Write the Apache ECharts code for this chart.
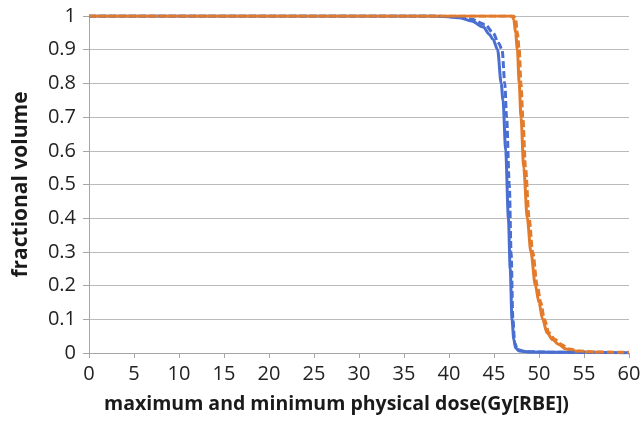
<!DOCTYPE html>
<html><head><meta charset="utf-8">
<script src="https://cdn.jsdelivr.net/npm/echarts@6/dist/echarts.min.js"></script>
<style>html,body{margin:0;padding:0;background:#fff}#c{width:644px;height:428px}</style>
</head><body><div id="c"></div>
<script>
var yTicks = [0, 0.1, 0.2, 0.3, 0.4, 0.5, 0.6, 0.7, 0.8, 0.9, 1];
var xTicks = [0, 5, 10, 15, 20, 25, 30, 35, 40, 45, 50, 55, 60];

var blueSolidDose = [0, 38, 40, 41.2, 42.5, 43.8, 44.5, 44.9, 45.4, 45.8, 46.0, 46.3, 46.6, 46.8, 47.0, 47.2, 47.4, 47.8, 49, 55, 60];
var blueSolidVol  = [1, 1, 0.998, 0.995, 0.985, 0.967, 0.945, 0.93, 0.9, 0.8, 0.75, 0.6, 0.4, 0.25, 0.1, 0.04, 0.015, 0.006, 0.003, 0.002, 0.001];

var blueDashDose = [0, 38, 41, 42.5, 44, 44.9, 45.5, 45.9, 46.2, 46.4, 46.7, 46.9, 47.1, 47.3, 47.6, 48.5, 52, 60];
var blueDashVol  = [1, 1, 0.997, 0.99, 0.975, 0.95, 0.92, 0.9, 0.8, 0.7, 0.5, 0.3, 0.1, 0.03, 0.01, 0.004, 0.002, 0.001];

var orangeSolidDose = [0, 47.0, 47.2, 47.4, 47.6, 47.8, 48.0, 48.3, 48.7, 49.1, 49.6, 50.0, 50.4, 50.9, 51.5, 52.2, 53.0, 54.0, 55.0, 57.0];
var orangeSolidVol  = [1, 1, 0.99, 0.95, 0.9, 0.8, 0.7, 0.55, 0.4, 0.3, 0.2, 0.15, 0.1, 0.06, 0.04, 0.025, 0.012, 0.006, 0.003, 0.002];

var orangeDashDose = [0, 47.2, 47.4, 47.6, 47.8, 48.0, 48.2, 48.5, 48.9, 49.3, 49.8, 50.2, 50.6, 51.1, 51.8, 52.5, 53.3, 54.5, 56.0, 60];
var orangeDashVol  = [1, 1, 0.99, 0.95, 0.9, 0.8, 0.7, 0.55, 0.4, 0.3, 0.2, 0.15, 0.1, 0.06, 0.04, 0.025, 0.012, 0.006, 0.003, 0.002];

function pairs(xs, ys){ return xs.map(function(x,i){ return [x, ys[i]]; }); }

var BLUE = '#4a6fd0', ORANGE = '#e37b2c';
var FONT = 'Open Sans';

function mk(name, xs, ys, color, dashed){
  return {
    name: name, type: 'line', data: pairs(xs, ys), showSymbol: false, symbol: 'none',
    smooth: 0.3, smoothMonotone: 'x',
    lineStyle: { color: color, width: 3, type: dashed ? [7, 3] : 'solid' },
    z: dashed ? 3 : 2
  };
}

var chart = echarts.init(document.getElementById('c'), null, {renderer: 'canvas'});
chart.setOption({
  animation: false,
  backgroundColor: '#fff',
  grid: { left: 89, right: 15, top: 16, bottom: 75 },
  xAxis: {
    type: 'value', min: xTicks[0], max: xTicks[xTicks.length-1], interval: 5,
    name: 'maximum and minimum physical dose(Gy[RBE])', nameLocation: 'middle', nameGap: 41,
    nameTextStyle: { fontFamily: FONT, fontWeight: 'bold', fontSize: 19.5, color: '#1a1a1a', padding: [0, 45, 0, 0] },
    axisLine: { show: true, lineStyle: { color: '#a6a6a6', width: 1 } },
    axisTick: { show: true, length: 5, lineStyle: { color: '#a6a6a6' } },
    axisLabel: { fontFamily: FONT, fontSize: 20, color: '#222', margin: 11 },
    splitLine: { show: false }
  },
  yAxis: {
    type: 'value', min: yTicks[0], max: yTicks[yTicks.length-1], interval: 0.1,
    name: 'fractional volume', nameLocation: 'middle', nameGap: 57, nameRotate: 90,
    nameTextStyle: { fontFamily: FONT, fontWeight: 'bold', fontSize: 21, color: '#1a1a1a' },
    axisLine: { show: true, lineStyle: { color: '#a6a6a6', width: 1 } },
    axisTick: { show: true, length: 6, lineStyle: { color: '#a6a6a6' } },
    axisLabel: { fontFamily: FONT, fontSize: 20, color: '#222', margin: 13,
      formatter: function(v){ return String(Math.round(v*10)/10); } },
    splitLine: { show: true, lineStyle: { color: '#bcbcbc', width: 1 } }
  },
  series: [
    mk('blue solid', blueSolidDose, blueSolidVol, BLUE, false),
    mk('blue dashed', blueDashDose, blueDashVol, BLUE, true),
    mk('orange solid', orangeSolidDose, orangeSolidVol, ORANGE, false),
    mk('orange dashed', orangeDashDose, orangeDashVol, ORANGE, true)
  ]
});
</script></body></html>
